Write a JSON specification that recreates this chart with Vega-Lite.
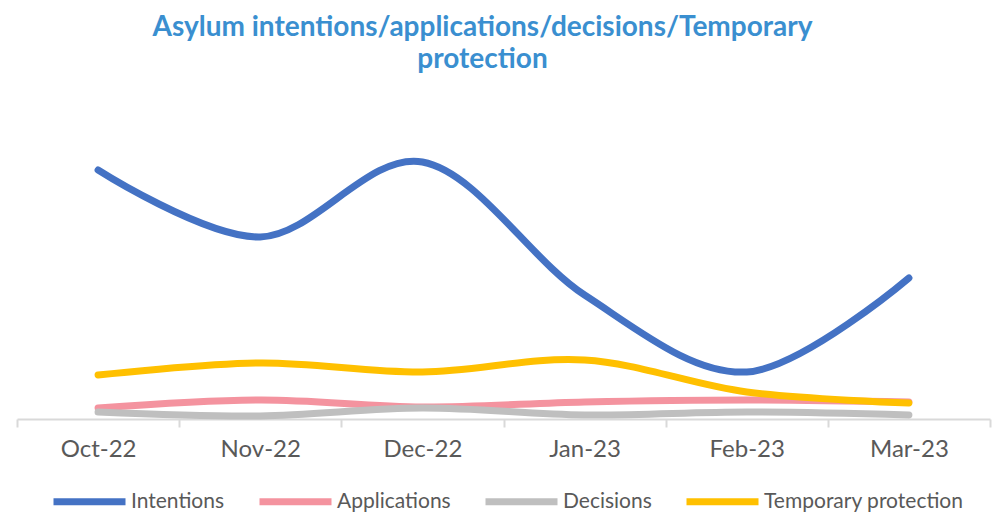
{
  "$schema": "https://vega.github.io/schema/vega-lite/v6.json",
  "autosize": "none",
  "width": 973,
  "height": 319,
  "padding": {"left": 17, "top": 100, "right": 4, "bottom": 93},
  "background": "white",
  "config": {"view": {"stroke": null}, "font": "Lato"},
  "title": {
    "text": ["Asylum intentions/applications/decisions/Temporary", "protection"],
    "font": "Lato",
    "fontSize": 28,
    "fontWeight": "bold",
    "color": "#3A8FD0",
    "anchor": "middle",
    "dx": -21,
    "offset": 26,
    "lineHeight": 32
  },
  "data": {
    "values": [
      {"month": "Oct-22", "series": "Intentions", "value": 2490},
      {"month": "Nov-22", "series": "Intentions", "value": 1820},
      {"month": "Dec-22", "series": "Intentions", "value": 2570},
      {"month": "Jan-23", "series": "Intentions", "value": 1240},
      {"month": "Feb-23", "series": "Intentions", "value": 470},
      {"month": "Mar-23", "series": "Intentions", "value": 1410},
      {"month": "Oct-22", "series": "Applications", "value": 110},
      {"month": "Nov-22", "series": "Applications", "value": 190},
      {"month": "Dec-22", "series": "Applications", "value": 120},
      {"month": "Jan-23", "series": "Applications", "value": 170},
      {"month": "Feb-23", "series": "Applications", "value": 190},
      {"month": "Mar-23", "series": "Applications", "value": 170},
      {"month": "Oct-22", "series": "Decisions", "value": 70},
      {"month": "Nov-22", "series": "Decisions", "value": 30},
      {"month": "Dec-22", "series": "Decisions", "value": 110},
      {"month": "Jan-23", "series": "Decisions", "value": 40},
      {"month": "Feb-23", "series": "Decisions", "value": 70},
      {"month": "Mar-23", "series": "Decisions", "value": 40},
      {"month": "Oct-22", "series": "Temporary protection", "value": 440},
      {"month": "Nov-22", "series": "Temporary protection", "value": 560},
      {"month": "Dec-22", "series": "Temporary protection", "value": 470},
      {"month": "Jan-23", "series": "Temporary protection", "value": 590},
      {"month": "Feb-23", "series": "Temporary protection", "value": 270},
      {"month": "Mar-23", "series": "Temporary protection", "value": 160}
    ]
  },
  "mark": {"type": "line", "interpolate": "cardinal", "strokeWidth": 7, "strokeCap": "round"},
  "encoding": {
    "x": {
      "field": "month",
      "type": "ordinal",
      "sort": null,
      "scale": {"type": "band", "paddingInner": 0, "paddingOuter": 0},
      "axis": {
        "title": null,
        "labelAngle": 0,
        "labelFont": "Lato",
        "labelFontSize": 24,
        "labelColor": "#595959",
        "labelPadding": 10,
        "tickBand": "extent",
        "tickColor": "#D9D9D9",
        "tickSize": 8,
        "tickWidth": 2,
        "domainColor": "#D9D9D9",
        "domainWidth": 2,
        "grid": false
      }
    },
    "y": {
      "field": "value",
      "type": "quantitative",
      "scale": {"domain": [0, 3190]},
      "axis": null
    },
    "color": {
      "field": "series",
      "type": "nominal",
      "sort": ["Intentions", "Applications", "Decisions", "Temporary protection"],
      "scale": {
        "domain": ["Intentions", "Applications", "Decisions", "Temporary protection"],
        "range": ["#4472C4", "#F4939F", "#BFBFBF", "#FFC000"]
      },
      "legend": {
        "title": null,
        "orient": "none",
        "legendX": 33,
        "legendY": 362,
        "direction": "horizontal",
        "symbolType": "stroke",
        "symbolSize": 5184,
        "symbolStrokeWidth": 7,
        "labelFont": "Lato",
        "labelFontSize": 21,
        "labelColor": "#595959",
        "labelOffset": 2,
        "columnPadding": 20,
        "labelLimit": 300
      }
    }
  }
}
